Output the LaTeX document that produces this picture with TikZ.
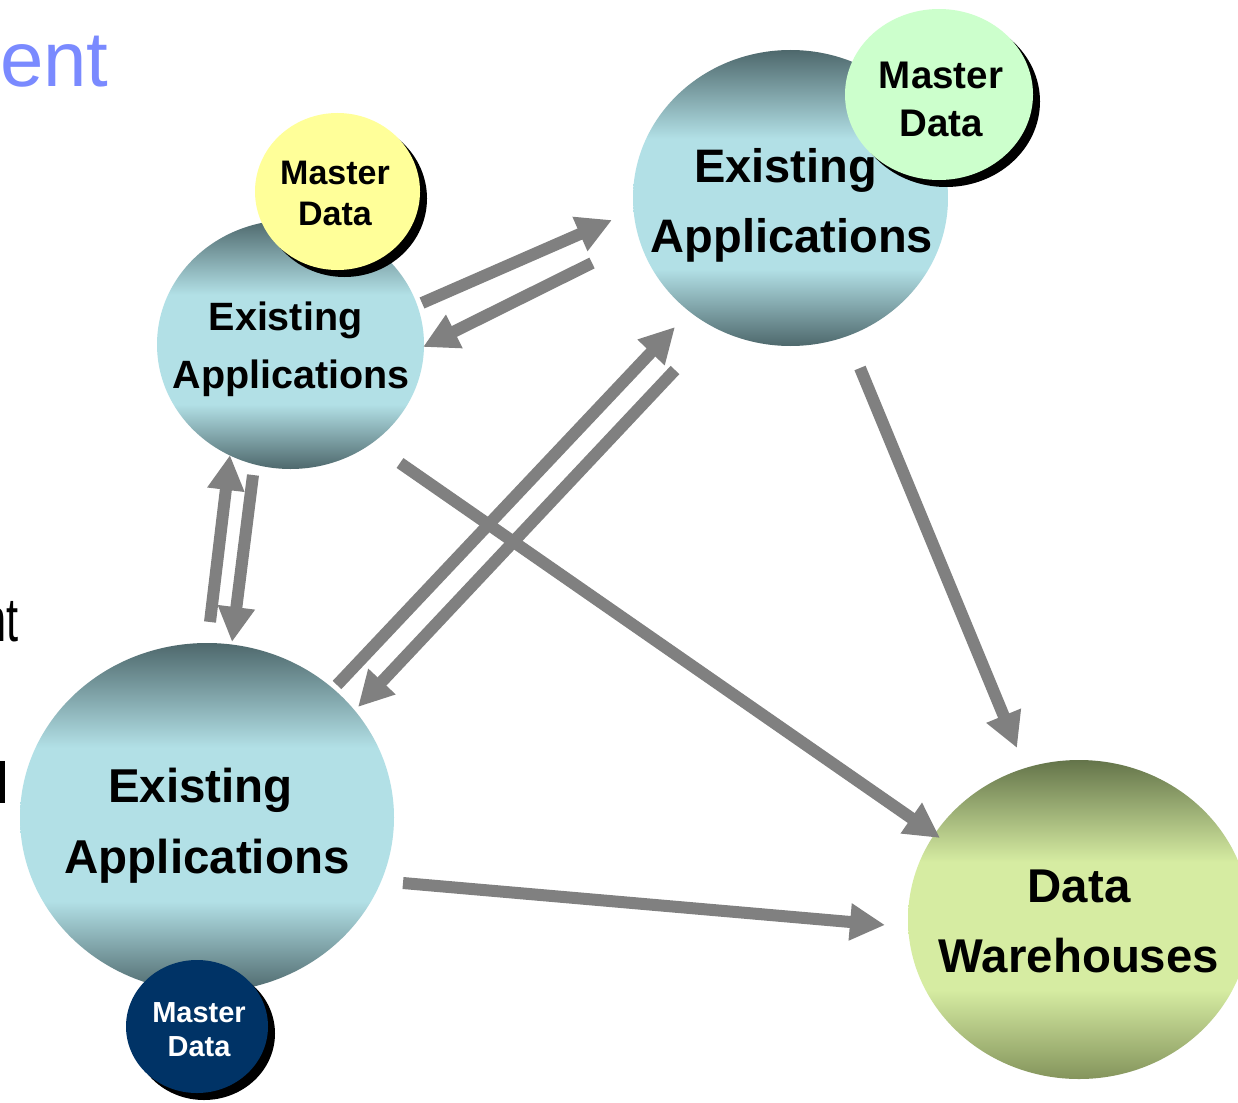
\documentclass[tikz,border=0pt]{standalone}
\usepackage{graphicx}
\usepackage{fontspec}
\setmainfont{Liberation Sans}
\usetikzlibrary{arrows.meta,shapes.geometric,shadows}
\definecolor{tealdark}{RGB}{78,104,108}
\definecolor{teallight}{RGB}{178,224,230}
\definecolor{dwtop}{RGB}{100,116,74}
\definecolor{dwlight}{RGB}{214,236,162}
\definecolor{dwbottom}{RGB}{132,148,92}
\definecolor{mdyellow}{RGB}{255,255,153}
\definecolor{mdgreen}{RGB}{204,255,204}
\definecolor{mdnavy}{RGB}{0,51,102}
\definecolor{arrowgray}{RGB}{128,128,128}
\definecolor{titleblue}{RGB}{122,138,255}
\pgfdeclareverticalshading{tealshade}{100bp}{color(0bp)=(tealdark); color(25bp)=(tealdark); color(38bp)=(teallight); color(60bp)=(teallight); color(75bp)=(tealdark); color(100bp)=(tealdark)}
\pgfdeclareverticalshading{dwshade}{100bp}{color(0bp)=(dwbottom); color(25bp)=(dwbottom); color(39bp)=(dwlight); color(59bp)=(dwlight); color(75bp)=(dwtop); color(100bp)=(dwtop)}
\begin{document}
\begin{tikzpicture}[x=1pt,y=-1pt,
  appcirc/.style={ellipse, draw=none, inner sep=0pt, shading=tealshade},
  dwcirc/.style={ellipse, draw=none, inner sep=0pt, shading=dwshade},
  mdcirc/.style={ellipse, draw=none, inner sep=0pt,
    drop shadow={fill=black, opacity=1, shadow xshift=7pt, shadow yshift=-7pt}},
  lbl/.style={inner sep=0pt, align=center},
  flow/.style={draw=arrowgray, line width=12pt, -{Triangle[length=35pt,width=35pt]}}]
\useasboundingbox (0,0) rectangle (1238,1102);
\fill[white] (0,0) rectangle (1238,1102);

% cut-off slide text
\node[lbl, anchor=base west, text=titleblue, font=\fontsize{78}{90}\selectfont] (title) at (0,87) {ent};
\node[lbl, anchor=base east, font=\fontsize{62}{70}\selectfont] (frag1) at (19,641) {\scalebox{0.7}[1]{nt}};
\node[lbl, anchor=base east, font=\fontsize{58}{70}\selectfont] (frag2) at (10,803) {l};

% big circles
\node[appcirc, minimum width=267pt, minimum height=249pt] (tl) at (290.5,344.5) {};
\node[appcirc, minimum width=315pt, minimum height=296pt] (tr) at (790.5,198) {};
\node[appcirc, minimum width=374pt, minimum height=349pt] (bl) at (207,817.5) {};
\node[dwcirc, minimum width=342pt, minimum height=319pt] (dw) at (1079,919.5) {};

% master data circles
\node[mdcirc, fill=mdyellow, minimum width=165pt, minimum height=157pt] (mdtl) at (337.5,191.5) {};
\node[mdcirc, fill=mdgreen, minimum width=188pt, minimum height=171pt] (mdtr) at (939,94.5) {};
\node[mdcirc, fill=mdnavy, minimum width=142pt, minimum height=133pt] (mdbl) at (197,1026.5) {};

% labels
\node[lbl, font=\bfseries\fontsize{39.5}{58}\selectfont] (tltext) at (291,349) {Existing\kern0.278em\\Applications};
\node[lbl, font=\bfseries\fontsize{47}{70}\selectfont] (trtext) at (792,205) {Existing\kern0.278em\\Applications};
\node[lbl, font=\bfseries\fontsize{47.5}{71}\selectfont] (bltext) at (207,825.5) {Existing\kern0.278em\\Applications};
\node[lbl, font=\bfseries\fontsize{47.4}{70}\selectfont] (dwtext) at (1079,921) {Data\\Warehouses};
\node[lbl, font=\bfseries\fontsize{34}{41}\selectfont] (mdtltext) at (335,193) {Master\\Data};
\node[lbl, font=\bfseries\fontsize{38.5}{48}\selectfont] (mdtrtext) at (941,99.5) {Master\\Data};
\node[lbl, text=white, font=\bfseries\fontsize{29}{34}\selectfont] (mdbltext) at (199,1030) {Master\\Data};

% arrow end points
\coordinate (a1s) at (422,303);  \coordinate (a1e) at (612,220);
\coordinate (a2s) at (592,263);  \coordinate (a2e) at (423,347);
\coordinate (a3s) at (210,622);  \coordinate (a3e) at (230,455);
\coordinate (a4s) at (253,475);  \coordinate (a4e) at (232,642);
\coordinate (a5s) at (337,685);  \coordinate (a5e) at (675,327);
\coordinate (a6s) at (675,370);  \coordinate (a6e) at (358,707);
\coordinate (a7s) at (400,463);  \coordinate (a7e) at (940,838);
\coordinate (a8s) at (860,368);  \coordinate (a8e) at (1017,748);
\coordinate (a9s) at (403,883);  \coordinate (a9e) at (885,925);

\draw[flow] (a1s) -- (a1e);
\draw[flow] (a2s) -- (a2e);
\draw[flow] (a3s) -- (a3e);
\draw[flow] (a4s) -- (a4e);
\draw[flow] (a5s) -- (a5e);
\draw[flow] (a6s) -- (a6e);
\draw[flow] (a7s) -- (a7e);
\draw[flow] (a8s) -- (a8e);
\draw[flow] (a9s) -- (a9e);
\end{tikzpicture}
\end{document}
